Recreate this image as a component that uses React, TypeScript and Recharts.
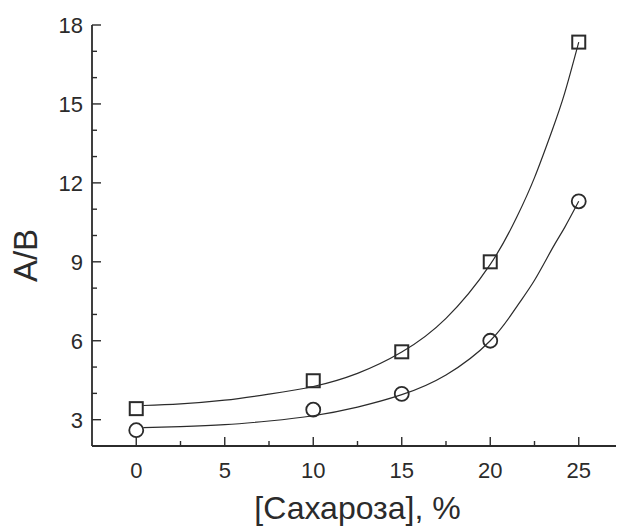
import React from 'react';
import { ComposedChart, XAxis, YAxis, Line, Scatter, Label } from 'recharts';

// Measured points
const sucrose = [0, 10, 15, 20, 25];
const squareRatio = [3.42, 4.48, 5.58, 9.0, 17.35];
const circleRatio = [2.6, 3.38, 3.98, 6.0, 11.3];

// Fitted curves
const fitSucrose = [0.4, 2.5, 5, 7.5, 10, 12.5, 15, 17.5, 20, 21.5, 22.5, 23.5, 24.2, 25];
const squareFit = [3.54, 3.6, 3.74, 3.97, 4.26, 4.76, 5.57, 6.85, 8.9, 10.7, 12.2, 14.0, 15.4, 17.35];
const circleFit = [2.7, 2.74, 2.81, 2.95, 3.15, 3.48, 3.95, 4.7, 6.0, 7.3, 8.3, 9.5, 10.3, 11.3];

// Ticks
const xTicks = [0, 2.5, 5, 7.5, 10, 12.5, 15, 17.5, 20, 22.5, 25];
const xMajor = [0, 5, 10, 15, 20, 25];
const yTicks = [3, 4, 5, 6, 7, 8, 9, 10, 11, 12, 13, 14, 15, 16, 17, 18];
const yMajor = [3, 6, 9, 12, 15, 18];

const xTitle = '[Сахароза], %';
const yTitle = 'A/B';

const INK = '#2b2b2b';
const FONT = '"Liberation Sans", Arial, sans-serif';

const squarePoints = sucrose.map((x, i) => ({ x, y: squareRatio[i] }));
const circlePoints = sucrose.map((x, i) => ({ x, y: circleRatio[i] }));
const squareCurve = fitSucrose.map((x, i) => ({ x, y: squareFit[i] }));
const circleCurve = fitSucrose.map((x, i) => ({ x, y: circleFit[i] }));

const YTick = (props: any) => {
  const { x, y, payload } = props;
  const major = yMajor.includes(payload.value);
  return (
    <g>
      <line x1={x} y1={y} x2={x + (major ? 9 : 5)} y2={y} stroke={INK} strokeWidth={1.4} />
      {major && (
        <text x={x - 9} y={y + 8} textAnchor="end" fontSize={22} fill={INK} fontFamily={FONT}>
          {payload.value}
        </text>
      )}
    </g>
  );
};

const XTick = (props: any) => {
  const { x, y, payload } = props;
  const major = xMajor.includes(payload.value);
  return (
    <g>
      <line x1={x} y1={y} x2={x} y2={y - (major ? 9 : 5)} stroke={INK} strokeWidth={1.4} />
      {major && (
        <text x={x} y={y + 32} textAnchor="middle" fontSize={22} fill={INK} fontFamily={FONT}>
          {payload.value}
        </text>
      )}
    </g>
  );
};

const SquareShape = (props: any) => {
  const { cx, cy } = props;
  return <rect x={cx - 6.5} y={cy - 6.5} width={13} height={13} fill="none" stroke={INK} strokeWidth={2} />;
};

const CircleShape = (props: any) => {
  const { cx, cy } = props;
  return <circle cx={cx} cy={cy} r={7} fill="none" stroke={INK} strokeWidth={1.8} />;
};

const YTitle = (props: any) => {
  const vb = props.viewBox;
  const cx = vb.x + 17;
  const cy = vb.y + vb.height / 2 + 20;
  return (
    <text
      x={cx}
      y={cy + 12}
      transform={`rotate(-90 ${cx} ${cy})`}
      textAnchor="middle"
      fontSize={33}
      fill={INK}
      fontFamily={FONT}
    >
      {yTitle}
    </text>
  );
};

const XTitle = (props: any) => {
  const vb = props.viewBox;
  return (
    <text x={vb.x + vb.width / 2} y={vb.y + 73} textAnchor="middle" fontSize={32} fill={INK} fontFamily={FONT}>
      {xTitle}
    </text>
  );
};

export default function App() {
  return (
    <div style={{ width: 616, height: 518, background: '#fff' }}>
      <ComposedChart width={616} height={518} margin={{ top: 17, right: 1, bottom: 0, left: 0 }}>
        <XAxis
          dataKey="x"
          type="number"
          domain={[-2.5, 27.5]}
          ticks={xTicks}
          interval={0}
          height={80}
          tickSize={0}
          tickMargin={0}
          tickLine={false}
          axisLine={{ stroke: INK, strokeWidth: 1.8 }}
          tick={<XTick />}
          allowDataOverflow
        >
          <Label content={<XTitle />} />
        </XAxis>
        <YAxis
          dataKey="y"
          type="number"
          domain={[2, 18]}
          ticks={yTicks}
          interval={0}
          width={84}
          tickSize={0}
          tickMargin={0}
          tickLine={false}
          axisLine={{ stroke: INK, strokeWidth: 1.8 }}
          tick={<YTick />}
          allowDataOverflow
        >
          <Label content={<YTitle />} />
        </YAxis>
        <Line data={squareCurve} dataKey="y" type="natural" stroke={INK} strokeWidth={1.2} dot={false} isAnimationActive={false} />
        <Line data={circleCurve} dataKey="y" type="natural" stroke={INK} strokeWidth={1.2} dot={false} isAnimationActive={false} />
        <Scatter data={squarePoints} dataKey="y" shape={<SquareShape />} isAnimationActive={false} />
        <Scatter data={circlePoints} dataKey="y" shape={<CircleShape />} isAnimationActive={false} />
      </ComposedChart>
    </div>
  );
}
